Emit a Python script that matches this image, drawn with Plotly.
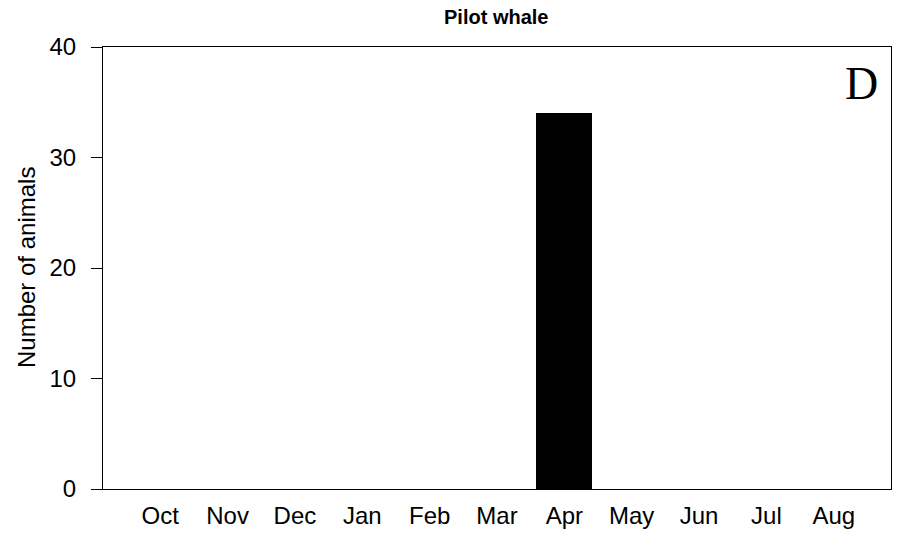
import plotly.graph_objects as go

months = ["Oct", "Nov", "Dec", "Jan", "Feb", "Mar", "Apr", "May", "Jun", "Jul", "Aug"]
animals = [0, 0, 0, 0, 0, 0, 34, 0, 0, 0, 0]
y_ticks = [0, 10, 20, 30, 40]
title_text = "Pilot whale"
y_title = "Number of animals"
panel_label = "D"

W, H = 902, 535
L, R, T, B = 103, 11, 47, 46
pw = W - L - R
ph = H - T - B

fig = go.Figure(go.Bar(
    x=list(range(len(months))), y=animals,
    width=1 / 1.2,
    marker=dict(color="black", line=dict(width=0)),
))

fig.update_layout(
    width=W, height=H,
    margin=dict(l=L, r=R, t=T, b=B, autoexpand=False),
    plot_bgcolor="white", paper_bgcolor="white",
    font=dict(family="Liberation Sans, Arial, sans-serif", color="black"),
    showlegend=False,
    bargap=0,
)

fig.update_xaxes(
    range=[-0.85, 10.85], automargin=False,
    tickmode="array", tickvals=list(range(len(months))), ticktext=months,
    ticks="", showgrid=False, zeroline=False,
    showline=True, linecolor="black", linewidth=1, mirror=True,
    tickfont=dict(size=24), ticklabelstandoff=5,
)
fig.update_yaxes(
    range=[0, 40], automargin=False,
    tickmode="array", tickvals=y_ticks,
    ticks="outside", ticklen=11, tickcolor="black", tickwidth=1,
    showgrid=False, zeroline=False,
    showline=True, linecolor="black", linewidth=1, mirror=True,
    tickfont=dict(size=24), ticklabelstandoff=10,
)

fig.add_annotation(
    text=f"<b>{title_text}</b>", xref="paper", yref="paper",
    x=(496 - L) / pw, y=1 + (47 - 17) / ph,
    xanchor="center", yanchor="middle", showarrow=False,
    font=dict(size=20, color="black"),
)
fig.add_annotation(
    text=y_title, xref="paper", yref="paper",
    x=(26 - L) / pw, y=1 - (268 - T) / ph, textangle=-90,
    xanchor="center", yanchor="middle", showarrow=False,
    font=dict(size=24, color="black"),
)
fig.add_annotation(
    text=panel_label, xref="paper", yref="paper",
    x=(861 - L) / pw, y=1 - (83 - T) / ph,
    xanchor="center", yanchor="middle", showarrow=False,
    font=dict(size=46, color="black", family="Liberation Serif, Times New Roman, serif"),
)

fig.write_html("out.html", post_script="document.body.style.margin='0';",
               config={"displayModeBar": False})
